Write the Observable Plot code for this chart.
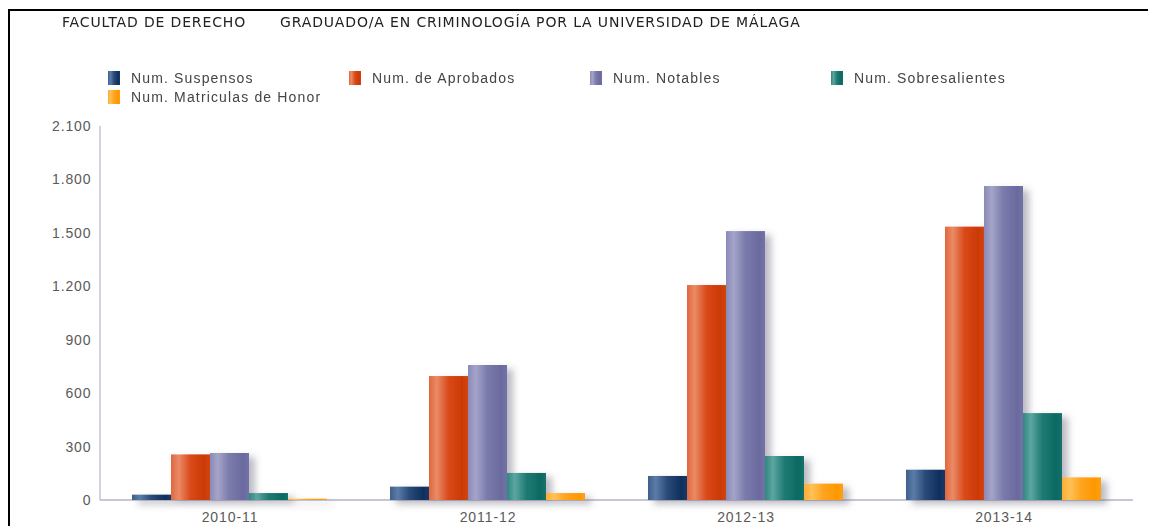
<!DOCTYPE html>
<html>
<head>
<meta charset="utf-8">
<script src="https://cdn.jsdelivr.net/npm/d3@7"></script>
<script src="https://cdn.jsdelivr.net/npm/@observablehq/plot@0.6"></script>
<style>
  html, body { margin: 0; padding: 0; background: #fff; }
  #wrap { position: relative; width: 1149px; height: 526px; overflow: hidden; }
  #border { position: absolute; left: 8px; top: 9px; width: 1138px; height: 600px;
            border-top: 2px solid #000; border-left: 2px solid #000; }
  #header { position: relative; height: 110px; }
  .title { position: absolute; top: 14px; font-family: "DejaVu Sans", sans-serif; font-size: 14px;
           letter-spacing: 0.85px; color: #222; white-space: nowrap; }
  .leg { position: absolute; font-family: "Liberation Sans", Arial, sans-serif; font-size: 14px;
         letter-spacing: 1.15px; color: #444; white-space: nowrap; line-height: 16px; }
  .leg i { position: absolute; left: -23px; top: 1px; width: 12px; height: 14px; }
  #chart svg { display: block; }
</style>
</head>
<body>
<div id="wrap">
  <div id="border"></div>
  <div id="header"></div>
  <div id="chart"></div>
</div>
<script>
const titleLeft = "FACULTAD DE DERECHO";
const titleRight = "GRADUADO/A EN CRIMINOLOGÍA POR LA UNIVERSIDAD DE MÁLAGA";
const years = ["2010-11", "2011-12", "2012-13", "2013-14"];
const series = ["Num. Suspensos", "Num. de Aprobados", "Num. Notables", "Num. Sobresalientes", "Num. Matriculas de Honor"];
const suspensos = [30, 75, 135, 170];
const aprobados = [256, 696, 1207, 1535];
const notables = [264, 758, 1510, 1763];
const sobresalientes = [39, 152, 247, 488];
const matriculas = [7, 39, 92, 127];
const yTicks = [0, 300, 600, 900, 1200, 1500, 1800, 2100];

const gradStops = [
  ["#3d5f8c", "#5b7ca7", "#2a4a78", "#0f2f5e", "#173868"],
  ["#e0673f", "#ea8b66", "#d9491a", "#cb3905", "#d24512"],
  ["#8a8ab8", "#a4a4ca", "#7a7aab", "#6a6a9f", "#7272a6"],
  ["#2e8780", "#5ba6a0", "#1f7a73", "#0c6a63", "#14706a"],
  ["#ffab33", "#ffc256", "#ffa31f", "#ff9800", "#ffa010"]
];
const offsets = [0, 0.2, 0.5, 0.85, 1];

const values = [suspensos, aprobados, notables, sobresalientes, matriculas];
const data = [];
years.forEach((y, i) => series.forEach((s, j) => data.push({year: y, series: s, value: values[j][i]})));

// header
const header = document.getElementById("header");
const t1 = document.createElement("div"); t1.className = "title"; t1.style.left = "62px"; t1.textContent = titleLeft; header.appendChild(t1);
const t2 = document.createElement("div"); t2.className = "title"; t2.style.left = "280px"; t2.textContent = titleRight; header.appendChild(t2);
const legPos = [[131, 70], [372, 70], [613, 70], [854, 70], [131, 89]];
series.forEach((s, j) => {
  const d = document.createElement("div");
  d.className = "leg";
  d.style.left = legPos[j][0] + "px";
  d.style.top = legPos[j][1] + "px";
  const sw = document.createElement("i");
  sw.style.background = "linear-gradient(to right, " + gradStops[j].map((c, k) => c + " " + (offsets[k] * 100) + "%").join(", ") + ")";
  d.appendChild(sw);
  d.appendChild(document.createTextNode(s));
  header.appendChild(d);
});

const esLocale = d3.formatLocale({decimal: ",", thousands: ".", grouping: [3], currency: ["", " €"]});
const fmt = esLocale.format(",");

const plot = Plot.plot({
  width: 1149,
  height: 416,
  marginLeft: 100,
  marginRight: 16,
  marginTop: 16,
  marginBottom: 26,
  style: {fontFamily: "'Liberation Sans', Arial, sans-serif", fontSize: "14px", color: "#5a5a5a", letterSpacing: "0.9px", background: "transparent"},
  fx: {domain: years, axis: "bottom", paddingInner: 0.245, paddingOuter: 0.124, tickSize: 0, tickPadding: 12, label: null},
  x: {domain: series, axis: null, padding: 0},
  y: {domain: [0, 2100], ticks: yTicks, tickFormat: fmt, tickSize: 0, tickPadding: 41, label: null},
  color: {domain: series, range: series.map((s, j) => `url(#grad${j})`)},
  marks: [
    Plot.barY(data, {fx: "year", x: "series", y: "value", fill: "series"})
  ]
});

const svg = d3.select(plot);
const defs = svg.insert("defs", ":first-child");
gradStops.forEach((stops, j) => {
  const g = defs.append("linearGradient").attr("id", "grad" + j).attr("x1", 0).attr("x2", 1).attr("y1", 0).attr("y2", 0);
  stops.forEach((c, k) => g.append("stop").attr("offset", offsets[k]).attr("stop-color", c));
});
const f = defs.append("filter").attr("id", "shadow").attr("x", "-10%").attr("y", "-10%").attr("width", "130%").attr("height", "130%");
f.append("feDropShadow").attr("dx", 6).attr("dy", 4).attr("stdDeviation", 3.5).attr("flood-color", "#556").attr("flood-opacity", 0.4);

// axis lines from the plot's own scales
const ys = plot.scale("y");
const y0 = ys.apply(0), yTop = ys.apply(2100);
const lines = svg.insert("g", "g[aria-label='bar']").attr("stroke", "#b4b4cc");
lines.append("line").attr("x1", 100).attr("x2", 100).attr("y1", yTop).attr("y2", y0).attr("stroke-width", 1.2);
lines.append("line").attr("x1", 100).attr("x2", 1149 - 16).attr("y1", y0).attr("y2", y0).attr("stroke-width", 1.6);
svg.selectAll("g[aria-label='bar']").attr("filter", "url(#shadow)");

document.getElementById("chart").appendChild(plot);
</script>
</body>
</html>
